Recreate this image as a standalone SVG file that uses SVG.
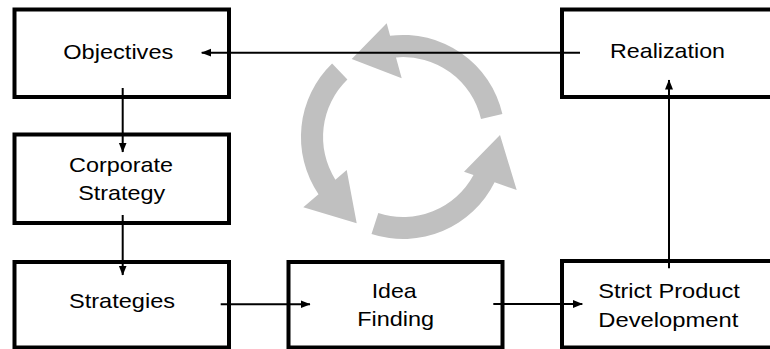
<svg xmlns="http://www.w3.org/2000/svg" width="770" height="349" viewBox="0 0 770 349">
<defs>
<style>
.box{fill:#fff;stroke:#000;stroke-width:4}
.lbl{font-family:"Liberation Sans",Arial,sans-serif;font-size:21px;fill:#000;text-anchor:middle}
.conn{stroke:#000;stroke-width:2;fill:none;marker-end:url(#ah)}
.cyc{fill:#c0c0c0;stroke:none}
</style>
<marker id="ah" markerUnits="userSpaceOnUse" markerWidth="11" markerHeight="9" refX="9.5" refY="4" orient="auto">
<path d="M0,0 L10,4 L0,8 z" fill="#000"/>
</marker>
</defs>
<rect width="770" height="349" fill="#fff"/>
<g id="cycle">
<path class="cyc" d="M502.4,114.1 A102,102 0 0 0 390.1,35.7 L386.7,23.3 L351.7,59 L401.7,78.3 L396.0,57.4 A80,80 0 0 1 481.0,119.0 Z"/>
<path class="cyc" d="M332.1,63.6 A102,102 0 0 0 318.5,194.2 L303.3,207.3 L356.7,223.3 L346.7,170 L335.4,179.7 A80,80 0 0 1 347.4,79.5 Z"/>
<path class="cyc" d="M371.5,234.0 A102,102 0 0 0 494.6,182.3 L516.7,190 L500,135 L464,171.7 L473.5,175.0 A80,80 0 0 1 378.3,213.1 Z"/>
</g>
<g id="objectives">
<rect class="box" x="14.5" y="9.5" width="214.5" height="87.5"/>
<text class="lbl" x="118.3" y="59" textLength="110" lengthAdjust="spacingAndGlyphs">Objectives</text>
</g>
<g id="realization">
<rect class="box" x="562" y="9.5" width="220" height="87.5"/>
<text class="lbl" x="667.5" y="57.5" textLength="115" lengthAdjust="spacingAndGlyphs">Realization</text>
</g>
<g id="corporate-strategy">
<rect class="box" x="14.5" y="134.5" width="214.5" height="88.5"/>
<text class="lbl" x="121" y="171.5" textLength="104" lengthAdjust="spacingAndGlyphs">Corporate</text>
<text class="lbl" x="121.7" y="200" textLength="87" lengthAdjust="spacingAndGlyphs">Strategy</text>
</g>
<g id="strategies">
<rect class="box" x="14.5" y="262" width="214.5" height="85.5"/>
<text class="lbl" x="122" y="308" textLength="106" lengthAdjust="spacingAndGlyphs">Strategies</text>
</g>
<g id="idea-finding">
<rect class="box" x="288.5" y="262" width="214" height="85.5"/>
<text class="lbl" x="394.2" y="298.3" textLength="45" lengthAdjust="spacingAndGlyphs">Idea</text>
<text class="lbl" x="395.7" y="326" textLength="77" lengthAdjust="spacingAndGlyphs">Finding</text>
</g>
<g id="strict-product-development">
<rect class="box" x="562" y="261" width="220" height="86.5"/>
<text class="lbl" x="669" y="298.3" textLength="141.7" lengthAdjust="spacingAndGlyphs">Strict Product</text>
<text class="lbl" x="668.3" y="326.7" textLength="140" lengthAdjust="spacingAndGlyphs">Development</text>
</g>
<g id="connectors">
<line class="conn" x1="122.7" y1="88" x2="122.7" y2="152"/>
<line class="conn" x1="122.7" y1="215" x2="122.7" y2="275"/>
<line class="conn" x1="220.7" y1="304.3" x2="310" y2="304.3"/>
<line class="conn" x1="493.3" y1="304" x2="582.3" y2="304"/>
<line class="conn" x1="669" y1="268.3" x2="669" y2="80"/>
<line class="conn" x1="580" y1="52.7" x2="201.7" y2="52.7"/>
</g>
</svg>
